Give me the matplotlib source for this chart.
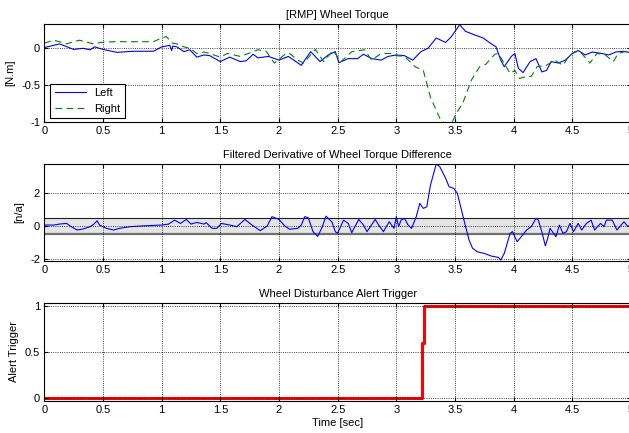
import numpy as np
import matplotlib
matplotlib.use('Agg')
import matplotlib.pyplot as plt
from matplotlib.ticker import FuncFormatter

plt.rcParams['font.family'] = ['Liberation Sans', 'DejaVu Sans']
plt.rcParams['font.size'] = 8

# wheel torque [N.m]
left_t = [0, 0.13, 0.25, 0.33, 0.39, 0.43, 0.5, 0.62, 0.76, 0.93, 1.0, 1.07, 1.085, 1.095, 1.13, 1.19,
          1.24, 1.30, 1.36, 1.41, 1.5, 1.58, 1.67, 1.72, 1.78, 1.82, 1.91, 2.0, 2.08, 2.19, 2.27, 2.35,
          2.42, 2.48, 2.51, 2.59, 2.67, 2.72, 2.79, 2.87, 2.93, 3.0, 3.07, 3.14, 3.21, 3.27, 3.34, 3.42,
          3.47, 3.54, 3.59, 3.67, 3.74, 3.81, 3.85, 3.89, 3.92, 3.98, 4.01, 4.04, 4.08, 4.14, 4.19, 4.24,
          4.28, 4.32, 4.38, 4.44, 4.5, 4.55, 4.61, 4.67, 4.75, 4.81, 4.87, 4.94, 5.0]
left_v = [0.01, 0.06, -0.015, 0.0, -0.02, 0.02, -0.015, -0.055, -0.04, -0.04, 0.02, 0.04, -0.03, 0.03, 0.02, -0.045,
          -0.02, -0.12, -0.09, -0.1, -0.18, -0.12, -0.18, -0.17, -0.08, -0.13, -0.11, -0.16, -0.11, -0.23, -0.045, -0.18,
          -0.09, -0.045, -0.195, -0.14, -0.14, -0.08, -0.14, -0.16, -0.11, -0.09, -0.1, -0.16, -0.045, 0.0, 0.14, 0.08,
          0.16, 0.32, 0.23, 0.18, 0.14, 0.06, 0.02, -0.16, -0.25, -0.11, -0.07, -0.27, -0.33, -0.18, -0.14, -0.32,
          -0.3, -0.18, -0.2, -0.16, -0.07, -0.03, -0.09, -0.05, -0.07, -0.09, -0.05, -0.04, -0.06]

right_t = [0, 0.08, 0.15, 0.19, 0.25, 0.30, 0.37, 0.42, 0.48, 0.6, 0.93, 1.0, 1.04, 1.09, 1.13, 1.19,
           1.24, 1.30, 1.36, 1.41, 1.5, 1.56, 1.67, 1.74, 1.82, 1.89, 1.96, 2.06, 2.09, 2.16, 2.21, 2.31,
           2.38, 2.46, 2.53, 2.62, 2.73, 2.79, 2.87, 2.96, 3.0, 3.07, 3.16, 3.23, 3.29, 3.34, 3.38, 3.42,
           3.47, 3.51, 3.57, 3.64, 3.71, 3.76, 3.84, 3.87, 3.91, 3.97, 4.01, 4.05, 4.09, 4.15, 4.2, 4.28,
           4.35, 4.42, 4.47, 4.52, 4.58, 4.65, 4.71, 4.78, 4.85, 4.89, 4.95, 5.0]
right_v = [0.07, 0.11, 0.08, 0.06, 0.09, 0.11, 0.08, 0.06, 0.08, 0.09, 0.09, 0.14, 0.16, 0.07, 0.06, 0.02,
           0.0, -0.07, -0.05, -0.07, -0.12, -0.07, -0.11, -0.07, -0.02, -0.04, -0.2, -0.07, -0.07, -0.16, -0.2, -0.015,
           -0.18, -0.03, -0.18, -0.045, -0.02, -0.16, -0.07, -0.07, -0.1, -0.11, -0.25, -0.3, -0.66, -0.84, -0.98, -1.02,
           -1.02, -0.89, -0.73, -0.43, -0.25, -0.22, -0.08, -0.07, -0.18, -0.34, -0.3, -0.41, -0.39, -0.38, -0.25, -0.23,
           -0.16, -0.23, -0.11, -0.045, -0.07, -0.2, -0.07, -0.09, -0.18, -0.07, -0.045, -0.07]

# filtered derivative of torque difference
deriv_t = [0, 0.08, 0.13, 0.19, 0.23, 0.28, 0.33, 0.39, 0.42, 0.45, 0.47, 0.53, 0.59, 0.64, 0.73, 0.82,
           0.93, 1.0, 1.06, 1.11, 1.16, 1.21, 1.25, 1.30, 1.36, 1.38, 1.43, 1.47, 1.51, 1.58, 1.64, 1.71,
           1.77, 1.84, 1.9, 1.94, 2.0, 2.05, 2.09, 2.16, 2.19, 2.22, 2.25, 2.29, 2.33, 2.37, 2.40, 2.45,
           2.48, 2.5, 2.55, 2.59, 2.62, 2.68, 2.72, 2.75, 2.82, 2.85, 2.89, 2.94, 2.98, 3.0, 3.02, 3.04,
           3.07, 3.10, 3.13, 3.17, 3.20, 3.23, 3.26, 3.29, 3.34, 3.37, 3.42, 3.45, 3.49, 3.52, 3.58, 3.62,
           3.65, 3.69, 3.75, 3.81, 3.87, 3.89, 3.92, 3.97, 3.99, 4.03, 4.07, 4.11, 4.15, 4.19, 4.21, 4.24,
           4.27, 4.29, 4.31, 4.33, 4.36, 4.39, 4.42, 4.45, 4.48, 4.51, 4.55, 4.58, 4.62, 4.66, 4.69, 4.74,
           4.77, 4.79, 4.84, 4.88, 4.94, 4.97, 5.0]
deriv_v = [0.06, 0.06, 0.12, 0.16, -0.04, -0.24, -0.18, -0.04, 0.1, 0.32, 0.06, -0.14, -0.24, -0.14, -0.04, 0.0,
           0.04, 0.06, 0.12, 0.36, 0.16, 0.4, 0.12, 0.22, 0.12, 0.2, -0.14, -0.14, 0.16, 0.06, -0.04, 0.4,
           0.06, -0.28, 0.0, 0.57, 0.4, 0.0, -0.19, -0.14, 0.06, 0.57, 0.5, -0.34, -0.63, -0.04, 0.6, 0.26,
           -0.34, -0.44, 0.36, 0.16, -0.4, 0.4, 0.06, -0.34, 0.4, 0.06, -0.34, 0.26, -0.14, 0.57, -0.04, 0.36,
           0.46, 0.06, -0.14, 0.57, 1.37, 1.07, 1.17, 2.45, 3.76, 3.6, 2.9, 2.38, 2.28, 1.98, 0.26, -0.85,
           -1.35, -1.56, -1.66, -1.82, -1.9, -2.06, -1.66, -0.44, -0.34, -0.95, -0.6, -0.24, -0.04, 0.46, 0.36, -0.34,
           -1.2, -0.75, -0.14, -0.34, -0.65, 0.06, -0.44, -0.34, 0.16, -0.34, 0.16, -0.24, 0.16, 0.36, -0.24, 0.16,
           -0.04, 0.36, 0.36, -0.24, 0.26, 0.0, 0.0]
band_lo, band_hi = -0.5, 0.5

# alert trigger
trig_t = [0, 3.22, 3.22, 3.232, 3.232, 5.0]
trig_v = [0, 0, 0.6, 0.6, 1, 1]

xticks = np.arange(0, 5.01, 0.5)
fmt = FuncFormatter(lambda v, p: '%g' % v)

fig = plt.figure(figsize=(6.29, 4.33), dpi=100)
W, H = 629.0, 433.0
def box(top, bottom, left=44.3, right=631.0):
    return [left / W, 1 - bottom / H, (right - left) / W, (bottom - top) / H]

ax1 = fig.add_axes(box(24, 122))
ax2 = fig.add_axes(box(164, 260.7))
ax3 = fig.add_axes(box(303, 400.7))

ax1.plot(left_t, left_v, color='#0000ff', lw=0.8, label='Left')
ax1.plot(right_t, right_v, color='#008000', lw=0.8, ls=(0, (6, 4)), label='Right')
ax1.set_ylim(-1, 0.33)
ax1.set_yticks([-1, -0.5, 0])
ax1.set_ylabel('[N.m]')
ax1.set_title('[RMP] Wheel Torque', fontsize=8, pad=4)
leg = ax1.legend(loc='lower left', bbox_to_anchor=(0.01, 0.04), borderaxespad=0, handlelength=2.8,
                 fancybox=False, framealpha=1, borderpad=0.4, labelspacing=0.5)
leg.get_frame().set_edgecolor('black')
leg.get_frame().set_linewidth(0.8)

ax2.fill_between([0, 5], band_lo, band_hi, color='#e4e4e4', lw=0)
ax2.axhline(band_hi, color='#202020', lw=0.8)
ax2.axhline(band_lo, color='#707070', lw=1.6)
ax2.plot(deriv_t, deriv_v, color='#0000ff', lw=0.8)
ax2.set_ylim(-2.1, 3.76)
ax2.set_yticks([-2, 0, 2])
ax2.set_ylabel('[n/a]')
ax2.set_title('Filtered Derivative of Wheel Torque Difference', fontsize=8, pad=4)

ax3.plot(trig_t, trig_v, color='#ff0000', lw=2.2)
ax3.set_ylim(-0.026, 1.03)
ax3.set_yticks([0, 0.5, 1])
ax3.set_ylabel('Alert Trigger')
ax3.set_xlabel('Time [sec]', labelpad=2)
ax3.set_title('Wheel Disturbance Alert Trigger', fontsize=8, pad=4)

for ax in (ax1, ax2, ax3):
    ax.set_xlim(0, 5)
    ax.set_xticks(xticks)
    ax.xaxis.set_major_formatter(fmt)
    ax.yaxis.set_major_formatter(fmt)
    ax.grid(True, color='black', ls=':', lw=0.6)
    ax.set_axisbelow(False)
    ax.tick_params(direction='in', length=3, top=True, right=True, labelsize=8, pad=3)
    for s in ax.spines.values():
        s.set_linewidth(0.8)

fig.savefig('out.png', dpi=100)
